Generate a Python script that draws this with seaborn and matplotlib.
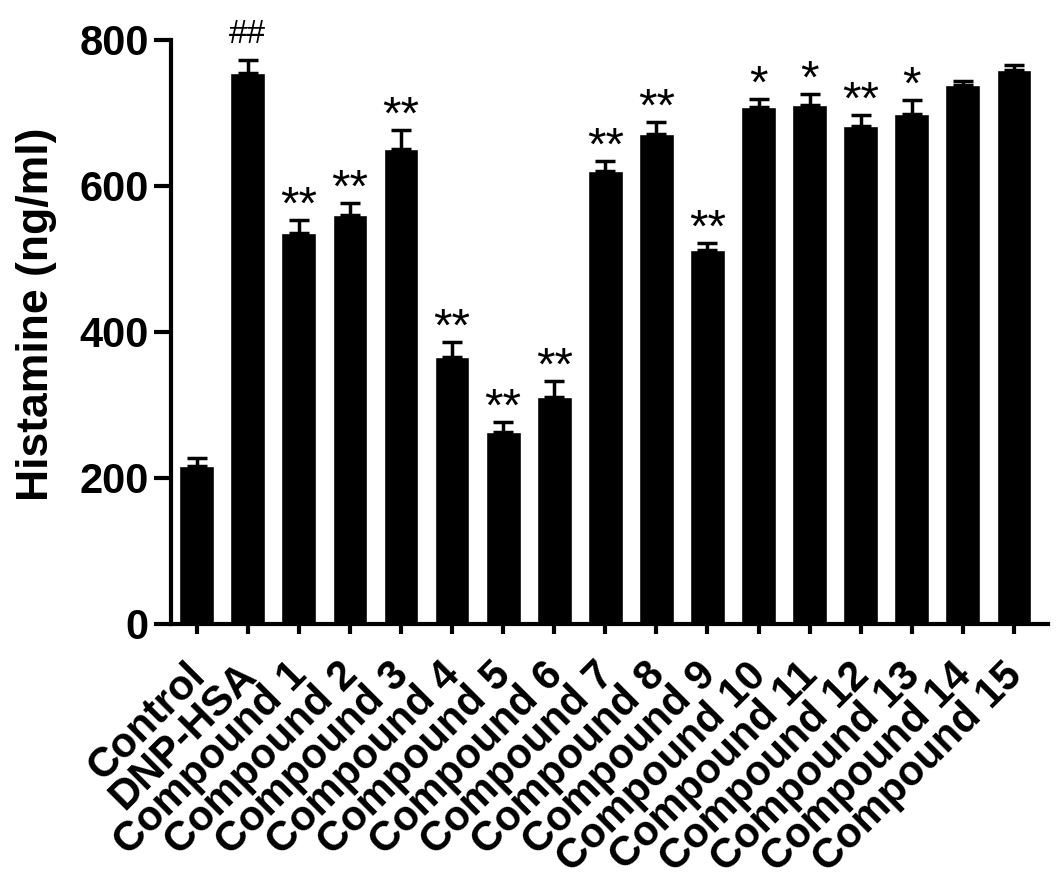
import numpy as np
import matplotlib
matplotlib.use('Agg')
import matplotlib.pyplot as plt
import matplotlib.transforms as mtransforms
import seaborn as sns

sns.set_theme(style='ticks', rc={'text.color': 'black', 'axes.labelcolor': 'black',
                                 'xtick.color': 'black', 'ytick.color': 'black',
                                 'axes.edgecolor': 'black'})
plt.rcParams['font.family'] = ['Liberation Sans', 'DejaVu Sans']

# histamine release per group
groups = ['Control', 'DNP-HSA'] + ['Compound %d' % i for i in range(1, 16)]
means = [216, 755, 536, 560, 651, 366, 263, 311, 621, 671, 512, 708, 711, 682, 698, 738, 759]
errs = [11, 18, 17, 16, 26, 20, 13, 22, 13, 16, 10, 11, 15, 15, 19, 6, 7]
marks = ['', '##', '**', '**', '**', '**', '**', '**', '**', '**', '**',
         '*', '*', '**', '*', '', '']

fig = plt.figure(figsize=(10.63, 8.86), dpi=100)
ax = fig.add_axes([0.161, 0.296, 0.825, 0.659])

sns.barplot(x=groups, y=means, color='black', saturation=1, width=0.68,
            errorbar=None, ax=ax)
ax.errorbar(range(len(groups)), means, yerr=[np.zeros(len(means)), errs],
            fmt='none', ecolor='black', elinewidth=2.5, capsize=7, capthick=2.5)

for i, m in enumerate(marks):
    if not m:
        continue
    if m == '##':
        ax.annotate(m, (i, means[i] + errs[i]), xytext=(0, 12), textcoords='offset points',
                    ha='center', va='baseline', fontsize=24)
    else:
        ax.annotate(m, (i, means[i] + errs[i]), xytext=(0, 1), textcoords='offset points',
                    ha='center', va='baseline', fontsize=34)

ax.set_xlim(-0.5, 16.67)
ax.set_ylim(0, 800)
ax.set_yticks([0, 200, 400, 600, 800])
ax.set_ylabel('Histamine (ng/ml)', fontsize=32, fontweight='bold')
ax.yaxis.set_label_coords(-0.13, 0.53)
ax.set_xlabel('')

sns.despine(ax=ax)
for s in ['left', 'bottom']:
    ax.spines[s].set_linewidth(3)
ax.tick_params(axis='y', length=12, width=3, pad=4, labelsize=30)
ax.tick_params(axis='x', length=7, width=3, pad=12, labelsize=30)
for lab in ax.get_yticklabels():
    lab.set_fontweight('bold')
# nudge the slanted labels so they end just under the ticks
shift = mtransforms.ScaledTranslation(-0.12, -0.05, fig.dpi_scale_trans)
for lab in ax.get_xticklabels():
    lab.set_fontweight('bold')
    lab.set_rotation(45)
    lab.set_ha('right')
    lab.set_va('top')
    lab.set_rotation_mode('anchor')
    lab.set_transform(lab.get_transform() + shift)

fig.savefig('out.png', dpi=100)
